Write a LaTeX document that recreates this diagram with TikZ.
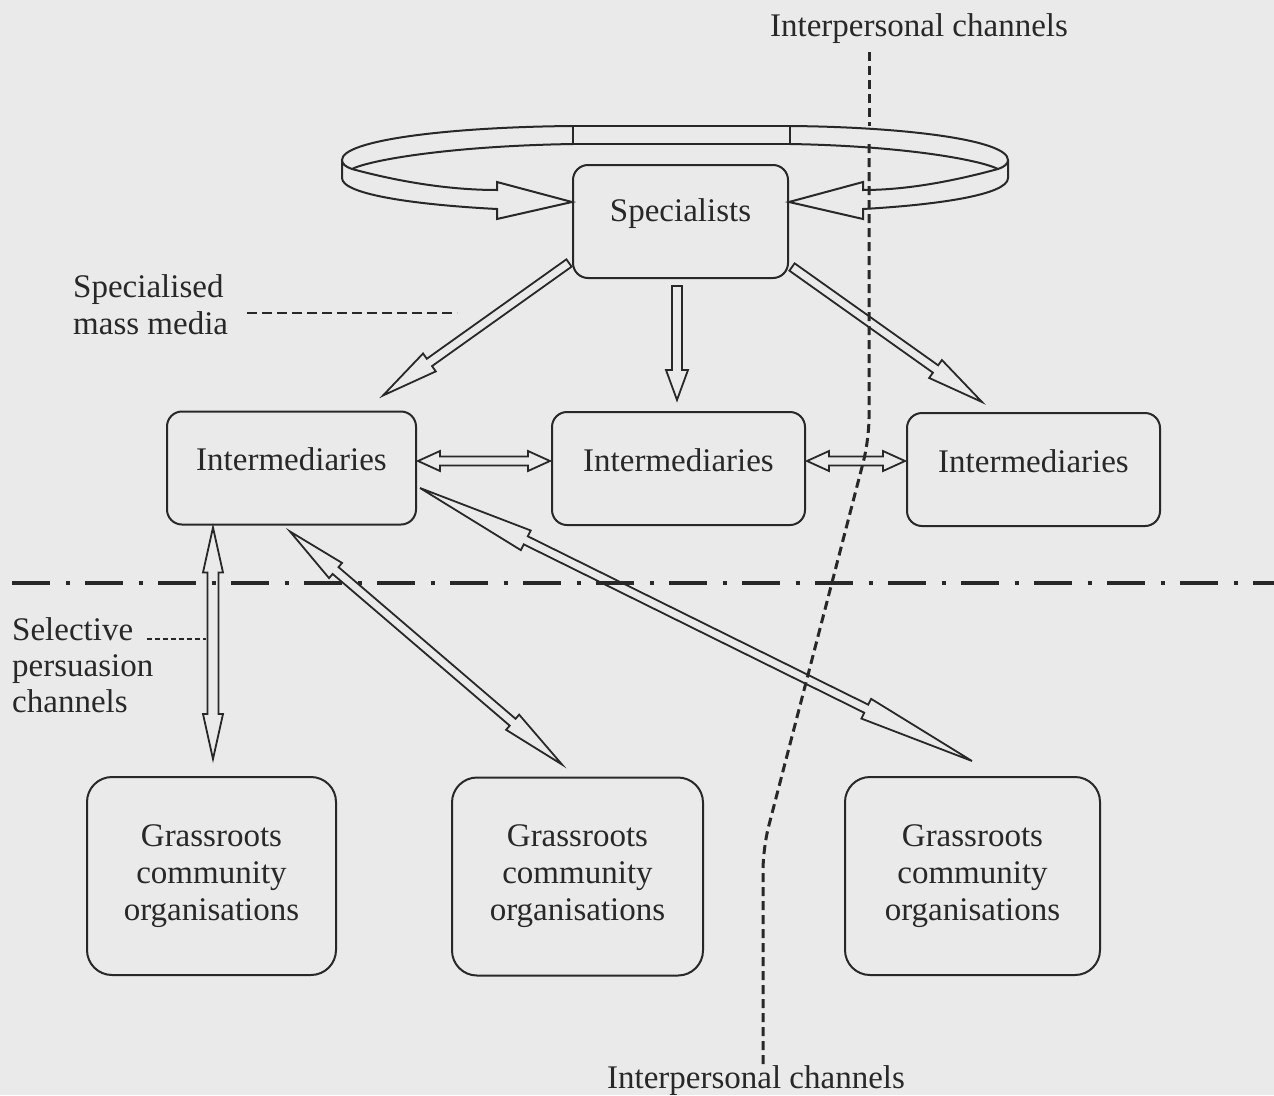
\documentclass[tikz,border=0pt]{standalone}
\usepackage{fontspec}
\setmainfont{Liberation Serif}
\usetikzlibrary{calc}
\definecolor{paper}{RGB}{234,234,234}
\definecolor{ink}{RGB}{40,40,40}

% hollow arrow with one head: start, tip, head length, shaft half width, head half width
\newcommand\arrowone[5]{%
  \path (#1) coordinate (qa) (#2) coordinate (qb);
  \path ($(qb)!#3!(qa)$) coordinate (qm);
  \draw[hollow] ($(qa)!#4!90:(qb)$) -- ($(qm)!#4!90:(qb)$) -- ($(qm)!#5!90:(qb)$) -- (qb)
    -- ($(qm)!#5!-90:(qb)$) -- ($(qm)!#4!-90:(qb)$) -- ($(qa)!#4!-90:(qb)$) -- cycle;
}
% hollow arrow with two heads: tip A, tip B, head length at A, at B, shaft half width, head half width
\newcommand\arrowtwo[6]{%
  \path (#1) coordinate (qa) (#2) coordinate (qb);
  \path ($(qa)!#3!(qb)$) coordinate (qn) ($(qb)!#4!(qa)$) coordinate (qm);
  \draw[hollow] (qa) -- ($(qn)!#6!90:(qb)$) -- ($(qn)!#5!90:(qb)$) -- ($(qm)!#5!90:(qb)$)
    -- ($(qm)!#6!90:(qb)$) -- (qb) -- ($(qm)!#6!-90:(qb)$) -- ($(qm)!#5!-90:(qb)$)
    -- ($(qn)!#5!-90:(qb)$) -- ($(qn)!#6!-90:(qb)$) -- cycle;
}

\tikzset{
  hollow/.style={draw=ink, line width=1.8pt, line join=miter},
  box/.style={draw=ink, line width=2pt, rounded corners=15pt, inner sep=0pt, text=ink},
  interbox/.style={box, minimum height=113pt, text height=22pt, text depth=17pt},
  grassbox/.style={box, rounded corners=25pt, minimum height=198pt, align=center},
  lbl/.style={inner sep=0pt, text=ink},
  leader/.style={draw=ink, line width=1.7pt},
  channel/.style={draw=ink, line width=3pt, dash pattern=on 9pt off 5pt},
}

\begin{document}
\begin{tikzpicture}[x=1pt, y=-1pt, font=\fontsize{33}{37}\selectfont]
\fill[paper] (0,0) rectangle (1274,1095);
\useasboundingbox (0,0) rectangle (1274,1095);

% boundary between levels
\draw[ink, line width=4pt, dash pattern=on 38pt off 15.5pt on 4pt off 15.5pt] (12,583) -- (1274,583);

% nodes
\node[box, minimum width=215pt, minimum height=113pt, text height=22pt, text depth=23pt] (spec) at (680.5,221.5) {Specialists};
\node[interbox, minimum width=249pt] (il) at (291.5,468) {Intermediaries};
\node[interbox, minimum width=253pt] (im) at (678.5,468.5) {Intermediaries};
\node[interbox, minimum width=253pt] (ir) at (1033.5,469.5) {Intermediaries};
\node[grassbox, minimum width=249pt] (gl) at (211.5,876) {Grassroots\\community\\organisations};
\node[grassbox, minimum width=251pt] (gm) at (577.5,876.5) {Grassroots\\community\\organisations};
\node[grassbox, minimum width=255pt] (gr) at (972.5,876) {Grassroots\\community\\organisations};

% labels
\node[lbl, anchor=base] (iptop) at (919,36) {Interpersonal channels};
\node[lbl, anchor=base] (ipbot) at (756,1088) {Interpersonal channels};
\node[lbl, anchor=north west, align=left, font=\fontsize{33}{37}\selectfont] (smm) at (73,274) {Specialised\\mass media};
\node[lbl, anchor=north west, align=left, font=\fontsize{33}{36}\selectfont] (spc) at (12,617) {Selective\\persuasion\\channels};

% leader lines
\coordinate (smmA) at (247,313);
\coordinate (smmB) at (457,313);
\draw[leader, dash pattern=on 10pt off 5pt] (smmA) -- (smmB);
\coordinate (spcA) at (147,639);
\coordinate (spcB) at (206,639);
\draw[leader, line width=1.5pt, dash pattern=on 5pt off 3pt] (spcA) -- (spcB);

% interpersonal channels divide
\coordinate (ch0) at (869,52);
\coordinate (ch1) at (869,126);
\coordinate (ch2) at (869,144);
\coordinate (ch3) at (869,440);
\coordinate (ch4) at (763,848);
\coordinate (ch5) at (763,1065);
\draw[channel] (ch0) -- (ch1);
\draw[channel, rounded corners=22pt] (ch2) -- (ch3) -- (ch4) -- (ch5);

% specialised mass media flows
\arrowone{$(spec.south west)+(-3,-16)$}{$(il.north east)+(-34,-15)$}{57pt}{4.5pt}{11pt}
\arrowone{$(spec.south)+(-3.5,7)$}{$(im.north)+(-1.5,-11)$}{30pt}{5pt}{11pt}
\arrowone{$(spec.south east)+(3,-12)$}{$(ir.north west)+(76,-10)$}{57pt}{4.5pt}{11pt}

% exchanges between intermediaries
\arrowtwo{$(il.east)+(1,-7)$}{$(im.west)+(-1,-7.5)$}{22pt}{22pt}{4.5pt}{10pt}
\arrowtwo{$(im.east)+(1,-7.5)$}{$(ir.west)+(-1,-8.5)$}{22pt}{22pt}{4.5pt}{10pt}

% selective persuasion channels
\arrowtwo{$(il.south)+(-78.5,2)$}{$(gl.north)+(1.5,-17)$}{45pt}{45pt}{5.5pt}{10pt}
\arrowtwo{$(il.south)+(-1.5,6)$}{$(gm.north)+(-15.5,-12)$}{60pt}{65pt}{4.5pt}{10pt}
\arrowtwo{$(il.east)+(3,20)$}{$(gr.north)+(-0.5,-15)$}{118pt}{118pt}{4.5pt}{11pt}

% circulation among specialists
\begin{scope}[draw=ink, line width=2pt, line join=miter]
\draw (573,126) -- (790,126) (573,144) -- (790,144) (573,126) -- (573,144) (790,126) -- (790,144);
\draw (573,126) .. controls (450,127) and (342,140) .. (342,160)
  .. controls (342,164) and (346,167) .. (352,169)
  .. controls (400,182) and (450,190) .. (497,190)
  -- (497,182) -- (572,202) -- (497,219) -- (497,209)
  .. controls (420,205) and (342,195) .. (342,178) -- (342,160);
\draw (573,144) .. controls (450,146) and (370,160) .. (352,169);
\draw (790,126) .. controls (905,127) and (1008,140) .. (1008,160)
  .. controls (1008,164) and (1004,167) .. (998,169)
  .. controls (950,182) and (905,190) .. (863,190)
  -- (863,182) -- (789,202) -- (863,219) -- (863,209)
  .. controls (935,205) and (1008,195) .. (1008,178) -- (1008,160);
\draw (790,144) .. controls (905,146) and (980,160) .. (998,169);
\end{scope}
\end{tikzpicture}
\end{document}
